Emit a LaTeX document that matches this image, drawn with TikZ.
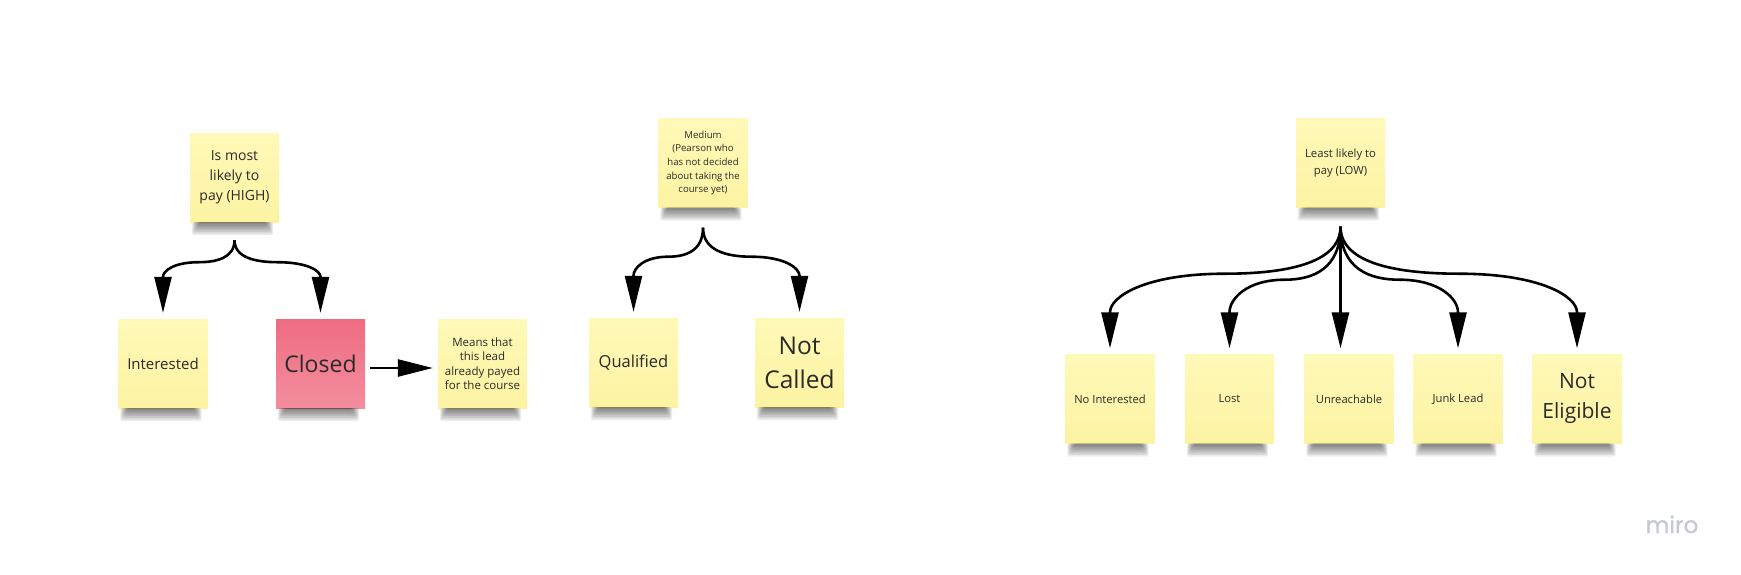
\documentclass[tikz,border=0pt]{standalone}
\usepackage{fontspec}
\setmainfont{Open Sans}
\newfontfamily\logofont[FakeBold=1.2]{Poppins}
\usetikzlibrary{arrows.meta,calc}
\definecolor{stickTop}{HTML}{FFF9B8}
\definecolor{stickBot}{HTML}{FCF3A2}
\definecolor{redTop}{HTML}{EE6C81}
\definecolor{redBot}{HTML}{F38E9E}
\definecolor{ink}{HTML}{2A2A2A}
\definecolor{logogray}{HTML}{C6C8D4}
\newcommand{\fs}[2]{\fontsize{#1}{#2}\selectfont}
% branching connector: #1 start coordinate, #2 target node, #3 drop to the flat part
\newcommand{\brancharrow}[3]{%
  \draw[conn] let \p1=(#1), \p2=($(#2.north)+(0,-6)$), \n1={\x2-\x1} in
    (\p1) .. controls (\x1, \y1-0.8*#3pt) and ({\x1+0.25*(\n1)}, \y1-#3pt) .. ({\x1+0.5*(\n1)}, \y1-#3pt)
    .. controls ({\x1+0.85*(\n1)}, \y1-#3pt) and (\x2, {\y1-#3pt-0.6*(\y1-#3pt-\y2-36pt)}) .. (\x2, \y2+36pt)
    -- (\p2);
}
% soft shadow under a sticky note, built from stacked translucent bands
\newcommand{\stickshadow}[1]{%
  \foreach \i in {1,...,8}{%
    \fill[black, opacity=0.075, rounded corners=2pt]
      ($(#1.south west)+(10-\i,0)$) rectangle ($(#1.south east)+(-14+\i,1.6*\i)$);
  }%
}
\begin{document}
\begin{tikzpicture}[x=1pt,y=-1pt,
  sticky/.style={minimum width=89pt, minimum height=89pt, inner sep=2pt, align=center,
    text=ink, top color=stickTop, bottom color=stickBot},
  redsticky/.style={sticky, top color=redTop, bottom color=redBot},
  conn/.style={line width=2.6pt, draw=black, -{Triangle[length=36pt,width=17pt]}}]
\useasboundingbox (0,0) rectangle (1741,574);
\fill[white] (0,0) rectangle (1741,574);

% ---- HIGH group
\node[sticky, font=\fs{14}{20}] (high) at (234.5,177.5) {Is most\\likely to\\pay (HIGH)};
\node[sticky, font=\fs{15}{18}] (int) at (163,363.5) {Interested};
\node[redsticky, font=\fs{23}{27}] (closed) at (320.5,363.5) {Closed};
\node[sticky, font=\fs{11.5}{14.5}] (means) at (482.5,363.5) {Means that\\this lead\\already payed\\for the course};

% ---- MEDIUM group
\node[sticky, font=\fs{9.6}{13.7}] (medium) at (703,163) {Medium\\(Pearson who\\has not decided\\about taking the\\course yet)};
\node[sticky, font=\fs{16.5}{20}] (qual) at (633.5,362.5) {Qualified};
\node[sticky, font=\fs{24.5}{34}] (notc) at (799.5,362.5) {Not\\Called};

% ---- LOW group
\node[sticky, font=\fs{11.3}{16.5}] (low) at (1340.5,163) {Least likely to\\pay (LOW)};
\node[sticky, font=\fs{11.2}{14}] (noint) at (1110,399) {No Interested};
\node[sticky, font=\fs{11.2}{14}] (lost) at (1229.5,399) {Lost};
\node[sticky, font=\fs{11.2}{14}] (unr) at (1349,399) {Unreachable};
\node[sticky, font=\fs{11.2}{14}] (junk) at (1458,399) {Junk Lead};
\node[sticky, font=\fs{21}{30}] (note) at (1577,399) {Not\\Eligible};

\foreach \n in {high,int,closed,means,medium,qual,notc,low,noint,lost,unr,junk,note}
  {\stickshadow{\n}}

% ---- connectors
\coordinate (hb) at ($(high.south)+(0,18)$);
\coordinate (mb) at ($(medium.south)+(0,20)$);
\coordinate (lb) at ($(low.south)+(0,19)$);

\brancharrow{hb}{int}{22}
\brancharrow{hb}{closed}{22}
\draw[conn, -{Triangle[length=35pt,width=17pt]}] ($(closed.east)+(5,4.5)$) -- ($(means.west)+(-5,4.5)$);

\brancharrow{mb}{qual}{29}
\brancharrow{mb}{notc}{29}

\brancharrow{lb}{noint}{47}
\brancharrow{lb}{lost}{53}
\draw[conn] (lb) -- ($(lb |- unr.north)+(0,-6)$);
\brancharrow{lb}{junk}{53}
\brancharrow{lb}{note}{47}

% ---- watermark
\node[anchor=base, text=logogray, font=\logofont\fs{23}{23}] (logo) at (1672,533) {miro};
\end{tikzpicture}
\end{document}
